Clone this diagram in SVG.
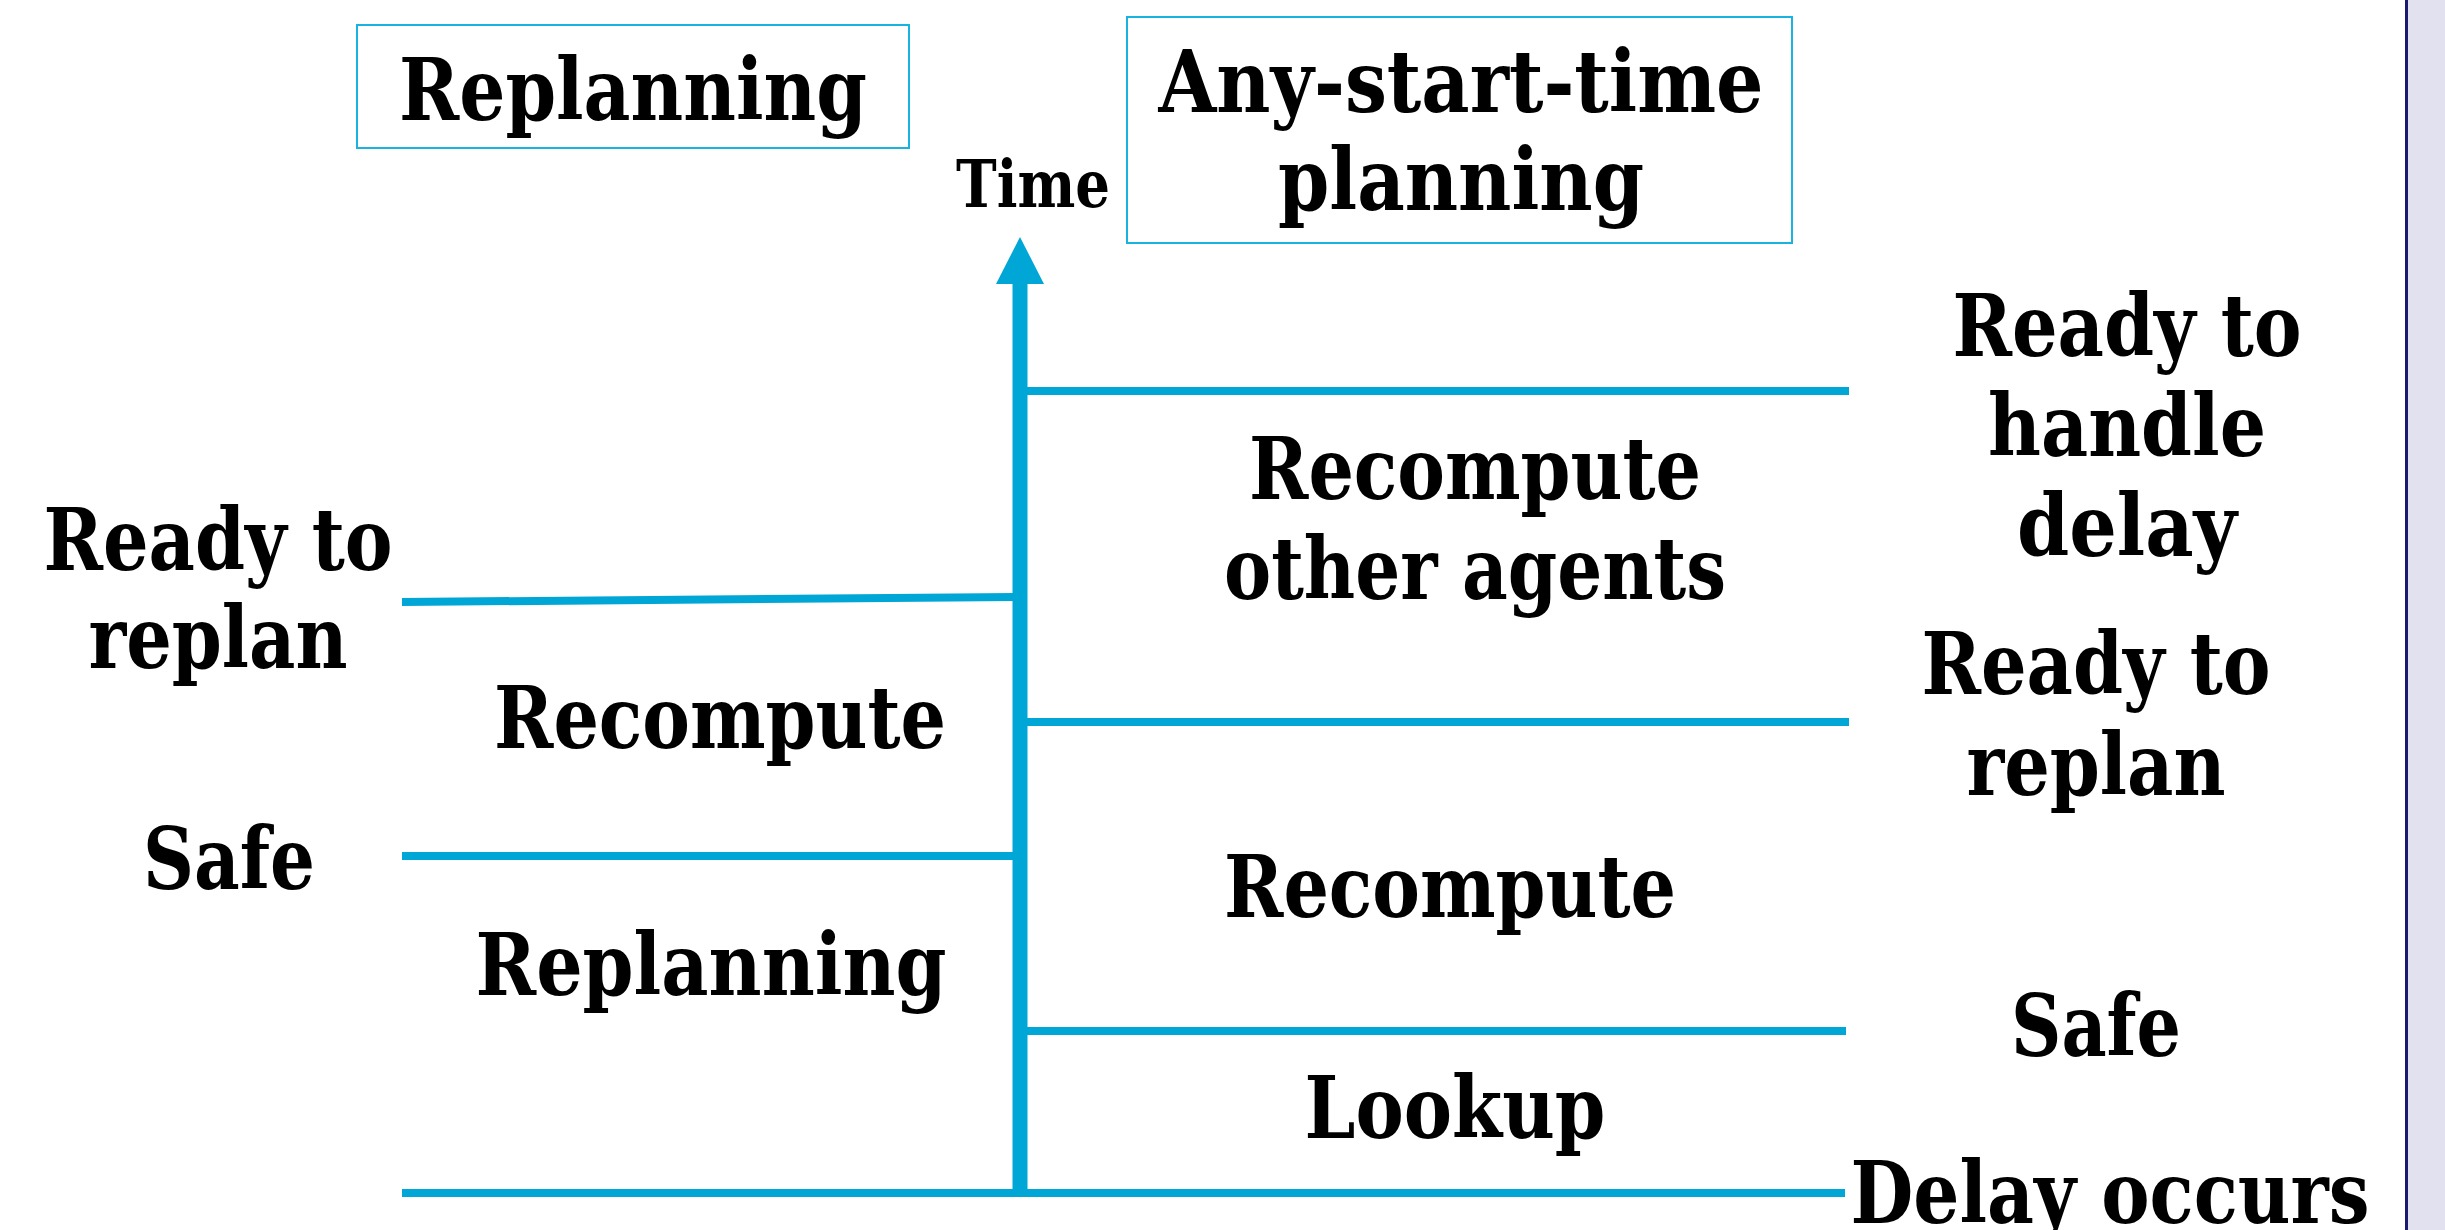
<svg xmlns="http://www.w3.org/2000/svg" width="2445" height="1230" viewBox="0 0 2445 1230">
<defs>
<style>
.t{font-family:"DejaVu Serif","Liberation Serif",serif;font-weight:bold;font-size:86px;fill:#000;text-anchor:middle}
.s{font-size:66px}
.ln{stroke:#00a6d6;stroke-width:8;fill:none}
.box{fill:#fff;stroke:#1ab2df;stroke-width:2}
</style>
<marker id="ah" markerUnits="userSpaceOnUse" markerWidth="48" markerHeight="48" refX="24" refY="0" viewBox="0 0 48 48" orient="auto" overflow="visible">
</marker>
</defs>
<rect x="0" y="0" width="2445" height="1230" fill="#fff"/>
<rect x="2407" y="0" width="38" height="1230" fill="#e1e1ef"/>
<line x1="2406.5" y1="0" x2="2406.5" y2="1230" stroke="#1a1a6e" stroke-width="3"/>

<g id="connectors">
<line class="ln" x1="1020" y1="1197" x2="1020" y2="282" style="stroke-width:15"/>
<polygon points="1020,237 1044,284 996,284" fill="#00a6d6"/>
<line class="ln" x1="402" y1="1193" x2="1845" y2="1193"/>
<line class="ln" x1="402" y1="602" x2="1016" y2="597"/>
<line class="ln" x1="402" y1="856" x2="1016" y2="856"/>
<line class="ln" x1="1024" y1="391" x2="1849" y2="391"/>
<line class="ln" x1="1024" y1="722" x2="1849" y2="722"/>
<line class="ln" x1="1024" y1="1031" x2="1846" y2="1031"/>
</g>

<g id="box-replanning">
<rect class="box" x="357" y="25" width="552" height="123"/>
<text class="t" x="633" y="120" textLength="468" lengthAdjust="spacingAndGlyphs">Replanning</text>
</g>
<g id="box-anystart">
<rect class="box" x="1127" y="17" width="665" height="226"/>
<text class="t" x="1461" y="112" textLength="605" lengthAdjust="spacingAndGlyphs">Any-start-time</text>
<text class="t" x="1461" y="210" textLength="366" lengthAdjust="spacingAndGlyphs">planning</text>
</g>
<g id="time-label">
<text class="t s" x="1033" y="207" textLength="154" lengthAdjust="spacingAndGlyphs">Time</text>
</g>

<g id="left-ready">
<text class="t" x="218" y="570" textLength="349" lengthAdjust="spacingAndGlyphs">Ready to</text>
<text class="t" x="218" y="668" textLength="259" lengthAdjust="spacingAndGlyphs">replan</text>
</g>
<g id="left-recompute"><text class="t" x="720" y="748" textLength="452" lengthAdjust="spacingAndGlyphs">Recompute</text></g>
<g id="left-safe"><text class="t" x="229" y="889" textLength="172" lengthAdjust="spacingAndGlyphs">Safe</text></g>
<g id="left-replanning"><text class="t" x="711" y="995" textLength="471" lengthAdjust="spacingAndGlyphs">Replanning</text></g>

<g id="right-ready-handle">
<text class="t" x="2127" y="356" textLength="349" lengthAdjust="spacingAndGlyphs">Ready to</text>
<text class="t" x="2127" y="456" textLength="278" lengthAdjust="spacingAndGlyphs">handle</text>
<text class="t" x="2127" y="556" textLength="220" lengthAdjust="spacingAndGlyphs">delay</text>
</g>
<g id="right-recompute-other">
<text class="t" x="1475" y="499" textLength="452" lengthAdjust="spacingAndGlyphs">Recompute</text>
<text class="t" x="1475" y="599" textLength="502" lengthAdjust="spacingAndGlyphs">other agents</text>
</g>
<g id="right-ready-replan">
<text class="t" x="2096" y="694" textLength="349" lengthAdjust="spacingAndGlyphs">Ready to</text>
<text class="t" x="2096" y="795" textLength="259" lengthAdjust="spacingAndGlyphs">replan</text>
</g>
<g id="right-recompute"><text class="t" x="1450" y="917" textLength="452" lengthAdjust="spacingAndGlyphs">Recompute</text></g>
<g id="right-safe"><text class="t" x="2096" y="1056" textLength="170" lengthAdjust="spacingAndGlyphs">Safe</text></g>
<g id="right-lookup"><text class="t" x="1455" y="1138" textLength="301" lengthAdjust="spacingAndGlyphs">Lookup</text></g>
<g id="delay-occurs"><text class="t" x="2110" y="1223" textLength="519" lengthAdjust="spacingAndGlyphs">Delay occurs</text></g>
</svg>
